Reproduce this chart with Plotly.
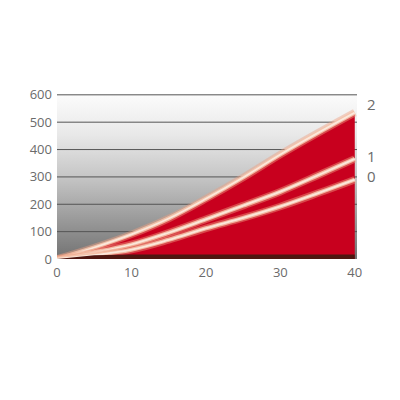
import plotly.graph_objects as go

# ---- data ----
x_vals = [0, 5, 10, 15, 20, 25, 30, 35, 40]
series_2 = [0, 42, 90, 148, 220, 298, 382, 460, 535]
series_1 = [0, 24, 53, 96, 145, 195, 246, 305, 366]
series_0 = [0, 14, 34, 70, 112, 150, 192, 240, 290]
base_band = [0, 14, 16, 16, 16, 16, 16, 16, 16]
series_names = ["2", "1", "0"]
y_ticks = [0, 100, 200, 300, 400, 500, 600]
x_ticks = [0, 10, 20, 30, 40]

RED = "#c8001e"
TXT = "#6b6b6b"
X_MAX = 40.3
Y_MAX = 603

fig = go.Figure()

# background gradient inside the plot area
fig.add_trace(go.Scatter(
    x=[0, X_MAX], y=[Y_MAX, Y_MAX], mode="lines", fill="tozeroy",
    line=dict(width=0, color="rgba(0,0,0,0)"),
    fillgradient=dict(type="vertical",
                      colorscale=[[0, "#727272"], [0.25, "#9c9c9c"], [0.5, "#c6c6c6"],
                                  [0.75, "#e8e8e8"], [1, "#fcfcfc"]]),
    hoverinfo="skip", showlegend=False))

# gridlines (drawn above the gradient, below the red area)
for v in y_ticks[1:]:
    fig.add_trace(go.Scatter(x=[0, X_MAX], y=[v, v], mode="lines",
                             line=dict(color="#555555", width=1),
                             hoverinfo="skip", showlegend=False))

# red area under the top series
fig.add_trace(go.Scatter(x=x_vals, y=series_2, mode="lines", fill="tozeroy",
                         fillcolor=RED, line=dict(color=RED, width=0, shape="spline"),
                         hoverinfo="skip", showlegend=False))

# light glowing edges for each series
for ys in (series_2, series_1, series_0):
    fig.add_trace(go.Scatter(x=x_vals, y=ys, mode="lines",
                             line=dict(color="rgba(238,160,130,0.45)", width=7.5, shape="spline"),
                             hoverinfo="skip", showlegend=False))
    fig.add_trace(go.Scatter(x=x_vals, y=ys, mode="lines",
                             line=dict(color="rgba(245,195,170,0.9)", width=4.2, shape="spline"),
                             hoverinfo="skip", showlegend=False))
    fig.add_trace(go.Scatter(x=x_vals, y=ys, mode="lines",
                             line=dict(color="#fbe8dc", width=1.8, shape="spline"),
                             hoverinfo="skip", showlegend=False))

# dark band along the bottom
fig.add_trace(go.Scatter(x=x_vals, y=base_band, mode="lines", fill="tozeroy",
                         fillcolor="#4e1610", line=dict(color="#4e1610", width=0),
                         hoverinfo="skip", showlegend=False))

# right-hand series labels
ends = [series_2[-1], series_1[-1], series_0[-1]]
shifts = [9, 3, 4]
annotations = []
for name, yv, sh in zip(series_names, ends, shifts):
    annotations.append(dict(x=X_MAX, y=yv, xref="x", yref="y", text=name, showarrow=False,
                            xanchor="left", yanchor="middle", xshift=8, yshift=sh,
                            font=dict(size=15, color=TXT, family="Open Sans")))

fig.update_layout(
    width=400, height=400,
    margin=dict(l=49, r=51, t=86, b=149),
    paper_bgcolor="white", plot_bgcolor="white",
    annotations=annotations,
    showlegend=False,
    font=dict(family="Open Sans", size=13, color=TXT),
    xaxis=dict(range=[0, X_MAX], tickvals=x_ticks, showgrid=False, zeroline=False,
               showline=False, ticks="", ticklabelstandoff=4,
               tickfont=dict(size=13, color=TXT)),
    yaxis=dict(range=[0, Y_MAX], tickvals=y_ticks, showgrid=False, zeroline=False,
               showline=False, ticks="", ticklabelstandoff=4,
               tickfont=dict(size=13, color=TXT)),
)

fig.write_html("out.html")
